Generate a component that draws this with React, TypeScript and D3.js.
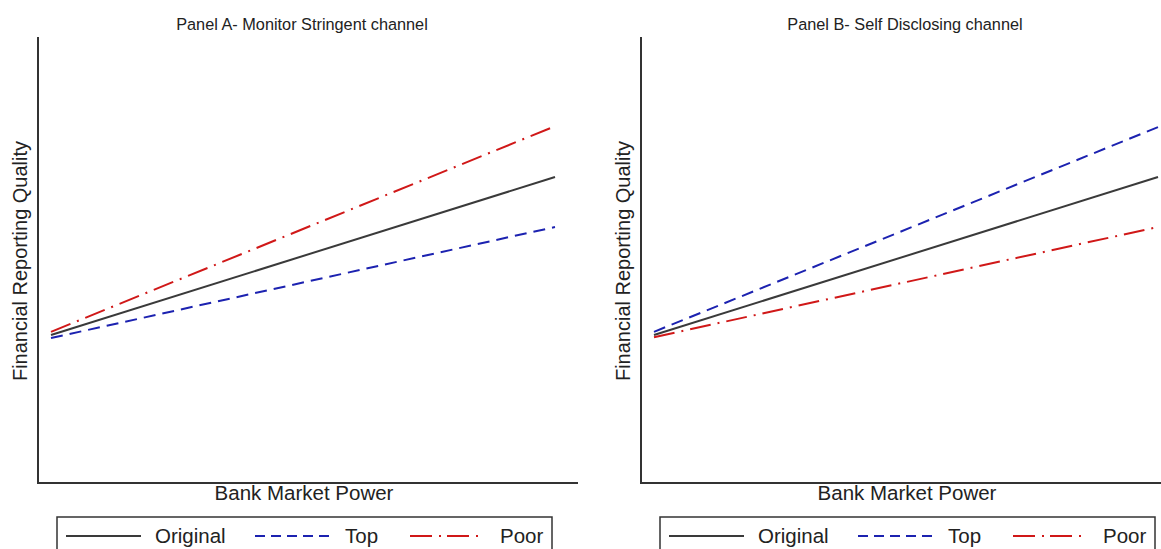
import React, { useEffect, useRef } from "react";
import * as d3 from "d3";

// x positions: low and high bank market power
const xPoints = [0, 1];

// predicted financial reporting quality (arbitrary units)
const panelAOriginal = [3.32, 6.86];
const panelATop = [3.25, 5.74];
const panelAPoor = [3.39, 8.0];

const panelBOriginal = [3.32, 6.86];
const panelBTop = [3.39, 7.98];
const panelBPoor = [3.27, 5.74];

const panelTitles = ["Panel A- Monitor Stringent channel", "Panel B- Self Disclosing channel"];
const seriesNames = ["Original", "Top", "Poor"];

const W = 1161;
const H = 549;
const FONT = "'Liberation Sans', Arial, Helvetica, sans-serif";

const styles = [
  { color: "#3a3a3a", dash: null as string | null, legendDash: null as string | null },
  { color: "#1c22b0", dash: "12,7", legendDash: "10,6" },
  { color: "#d01818", dash: "21,7,2,7", legendDash: "22,7,2,6" },
];

const App: React.FC = () => {
  const ref = useRef<SVGSVGElement>(null);

  useEffect(() => {
    if (!ref.current) return;
    const svg = d3.select(ref.current);
    svg.selectAll("*").remove();

    const panels = [
      { title: panelTitles[0], series: [panelAOriginal, panelATop, panelAPoor], offset: 0 },
      { title: panelTitles[1], series: [panelBOriginal, panelBTop, panelBPoor], offset: 603 },
    ];

    const axisLeft = 38;
    const axisRight = 578;
    const top = 37;
    const bottom = 483;

    panels.forEach((p) => {
      const g = svg.append("g").attr("transform", `translate(${p.offset},0)`);

      const x = d3.scaleLinear().domain([0, 1]).range([51, 555]);
      const y = d3.scaleLinear().domain([0, 10]).range([bottom, bottom - 446]);

      // frame: left and bottom axes, no ticks
      g.append("line")
        .attr("x1", axisLeft).attr("x2", axisLeft)
        .attr("y1", top).attr("y2", bottom)
        .attr("stroke", "#333").attr("stroke-width", 2);
      g.append("line")
        .attr("x1", axisLeft - 1).attr("x2", axisRight)
        .attr("y1", bottom).attr("y2", bottom)
        .attr("stroke", "#333").attr("stroke-width", 2);

      g.append("text")
        .attr("x", 302).attr("y", 30)
        .attr("text-anchor", "middle")
        .attr("font-family", FONT).attr("font-size", 16.3)
        .attr("fill", "#222")
        .text(p.title);

      g.append("text")
        .attr("x", 304).attr("y", 500)
        .attr("text-anchor", "middle")
        .attr("font-family", FONT).attr("font-size", 20.5)
        .attr("fill", "#222")
        .text("Bank Market Power");

      g.append("text")
        .attr("transform", `translate(27,261) rotate(-90)`)
        .attr("text-anchor", "middle")
        .attr("font-family", FONT).attr("font-size", 20)
        .attr("fill", "#222")
        .text("Financial Reporting Quality");

      const line = d3
        .line<number>()
        .x((_, i) => x(xPoints[i]))
        .y((d) => y(d));

      p.series.forEach((s, i) => {
        g.append("path")
          .datum(s)
          .attr("d", line)
          .attr("fill", "none")
          .attr("stroke", styles[i].color)
          .attr("stroke-width", 2)
          .attr("stroke-dasharray", styles[i].dash);
      });

      // legend
      const lg = g.append("g").attr("transform", "translate(57,517)");
      lg.append("rect")
        .attr("x", 0).attr("y", 0)
        .attr("width", 495).attr("height", 50)
        .attr("fill", "none").attr("stroke", "#333").attr("stroke-width", 1.5);
      const itemX = [9, 198, 353];
      const textOffset = [89, 90, 90];
      const sampleW = [75, 76, 73];
      seriesNames.forEach((name, i) => {
        lg.append("line")
          .attr("x1", itemX[i]).attr("x2", itemX[i] + sampleW[i])
          .attr("y1", 19).attr("y2", 19)
          .attr("stroke", styles[i].color)
          .attr("stroke-width", 1.8)
          .attr("stroke-dasharray", styles[i].legendDash);
        lg.append("text")
          .attr("x", itemX[i] + textOffset[i]).attr("y", 26)
          .attr("font-family", FONT).attr("font-size", 20.5)
          .attr("fill", "#222")
          .text(name);
      });
    });
  }, []);

  return (
    <svg
      ref={ref}
      width={W}
      height={H}
      style={{ position: "absolute", left: 0, top: 0, background: "#fff" }}
    />
  );
};

export default App;
